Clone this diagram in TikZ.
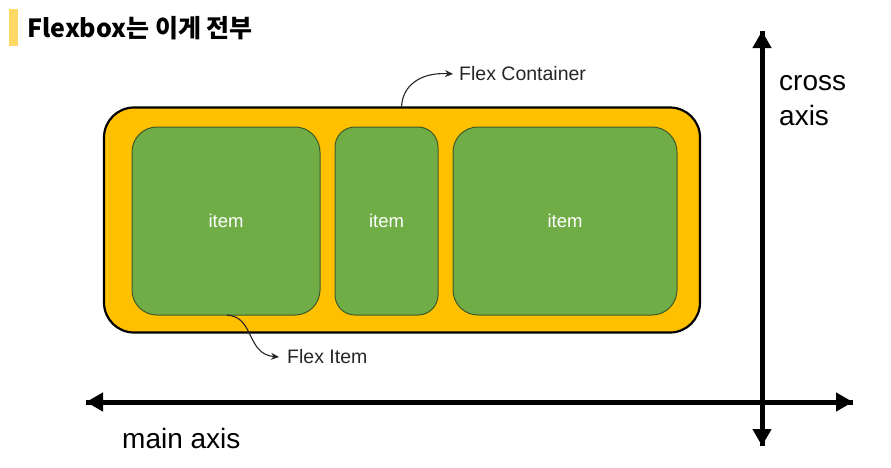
\documentclass[tikz,border=0pt]{standalone}
\usepackage{fontspec}
\setmainfont{Liberation Sans}
\newfontfamily\krfont{Noto Sans CJK KR}
\usetikzlibrary{arrows.meta}
\definecolor{cont}{HTML}{FFC000}
\definecolor{itemgreen}{HTML}{70AD47}
\definecolor{itemline}{HTML}{3E5A2A}
\definecolor{barcol}{HTML}{FFD966}
\tikzset{
  container/.style={draw=black, line width=2.2pt, fill=cont, rounded corners=30pt, inner sep=0pt},
  flexitem/.style={draw=itemline, line width=1pt, fill=itemgreen, rounded corners=25pt, inner sep=0pt, text=white, font=\fontsize{18.5}{20}\selectfont},
  axis/.style={line width=5pt, -{Triangle[length=17pt,width=18pt]}},
  axislabel/.style={font=\fontsize{28}{35}\selectfont, inner sep=0pt},
  note/.style={font=\fontsize{19.5}{22}\selectfont, text=black!85, inner sep=0pt},
  notearrow/.style={line width=1.1pt, draw=black!85, -{Stealth[length=8pt,width=7pt]}}
}
\begin{document}
\begin{tikzpicture}[x=1pt,y=-1pt]
\useasboundingbox (0,0) rectangle (891,467);
% title
\fill[barcol] (9,9) rectangle (18,46);
\node[anchor=base west, inner sep=0pt, font=\krfont\bfseries\fontsize{25}{30}\selectfont] (title) at (27,37) {Flexbox는 이게 전부};
% container
\node[container, minimum width=596pt, minimum height=225pt] (container) at (402,220) {};
% items
\node[flexitem, minimum width=188pt, minimum height=188pt] (item1) at (226,221) {item};
\node[flexitem, minimum width=103pt, minimum height=188pt, rounded corners=20pt] (item2) at (386.5,221) {item};
\node[flexitem, minimum width=224pt, minimum height=188pt] (item3) at (565,221) {item};
% annotations
\node[note, anchor=west] (contlabel) at (459,74) {Flex Container};
\coordinate (contstart) at (401.5,107.5);
\draw[notearrow] (contstart) .. controls (402,86) and (420,72) .. (contlabel.west -| 453,71);
\node[note, anchor=west] (itemlabel) at (287,357) {Flex Item};
\coordinate (itemstart) at (227,315);
\draw[notearrow] (itemstart) .. controls (255,317) and (246,354) .. (itemlabel.west -| 279,355);
% axes
\coordinate (mainL) at (86,402);
\coordinate (mainR) at (853,402);
\draw[axis] (mainR) -- (mainL);
\draw[axis] (mainL) -- (mainR);
\coordinate (crossT) at (762,31);
\coordinate (crossB) at (762,446);
\draw[axis] (crossB) -- (crossT);
\draw[axis] (crossT) -- (crossB);
\node[axislabel, anchor=west] (mainlabel) at (122,438) {main axis};
\node[axislabel, anchor=north west, align=left] (crosslabel) at (779,75) {cross\\axis};
\end{tikzpicture}
\end{document}
